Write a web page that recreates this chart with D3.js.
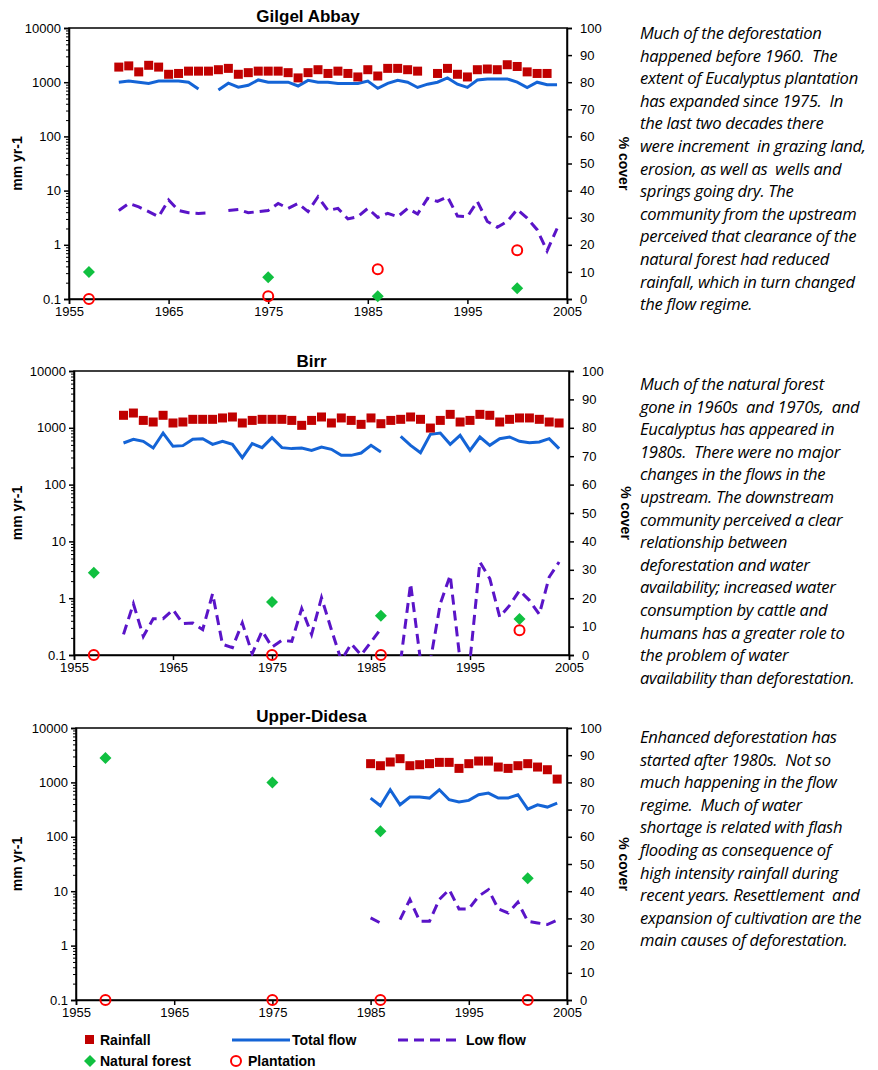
<!DOCTYPE html>
<html><head><meta charset="utf-8">
<script src="https://cdn.jsdelivr.net/npm/d3@7"></script>
<style>
body{margin:0;background:#fff;font-family:"Liberation Sans",Arial,sans-serif}
.note{position:absolute;left:640px;width:240px;white-space:nowrap;font-family:"Open Sans",sans-serif;font-style:italic;font-size:16.6px;letter-spacing:-0.3px;line-height:22.6px;color:#000}
</style></head><body>
<svg id="c" width="878" height="1070"></svg>
<div class="note" style="top:22px">Much of the deforestation<br>happened before 1960.&nbsp; The<br>extent of Eucalyptus plantation<br>has expanded since 1975.&nbsp; In<br>the last two decades there<br>were increment&nbsp; in grazing land,<br>erosion, as well as&nbsp; wells and<br>springs going dry. The<br>community from the upstream<br>perceived that clearance of the<br>natural forest had reduced<br>rainfall, which in turn changed<br>the flow regime.</div>
<div class="note" style="top:373px">Much of the natural forest<br>gone in 1960s&nbsp; and 1970s,&nbsp; and<br>Eucalyptus has appeared in<br>1980s.&nbsp; There were no major<br>changes in the flows in the<br>upstream. The downstream<br>community perceived a clear<br>relationship between<br>deforestation and water<br>availability; increased water<br>consumption by cattle and<br>humans has a greater role to<br>the problem of water<br>availability than deforestation.</div>
<div class="note" style="top:726px">Enhanced deforestation has<br>started after 1980s.&nbsp; Not so<br>much happening in the flow<br>regime.&nbsp; Much of water<br>shortage is related with flash<br>flooding as consequence of<br>high intensity rainfall during<br>recent years. Resettlement&nbsp; and<br>expansion of cultivation are the<br>main causes of deforestation.</div>
<script>
const xTicks=[1955,1965,1975,1985,1995,2005];
const leftTicks=[10000,1000,100,10,1,0.1];
const rightTicks=[0,10,20,30,40,50,60,70,80,90,100];
const yrs=(a,b)=>d3.range(a,b+1);

// Gilgel Abbay
const gaYears=yrs(1960,2004);
const gaRain=[1900,2000,1550,2050,1900,1400,1450,1600,1600,1600,1700,1800,1400,1500,1600,1600,1600,1500,1200,1500,1700,1450,1600,1450,1250,1700,1300,1800,1800,1700,1600,null,1450,1800,1400,1250,1700,1750,1700,2100,1950,1550,1450,1450,null];
const gaTotal=[1000,1050,1000,950,1050,1050,1050,1000,750,null,720,960,810,880,1100,1000,1000,1000,850,1080,1000,1000,950,950,950,1050,770,950,1080,1000,800,920,1000,1200,920,800,1100,1150,1150,1150,1000,800,1000,900,900];
const gaLow=[4.3,5.8,5.0,4.1,3.3,6.7,4.3,3.9,3.8,3.9,null,4.3,4.5,3.9,4.1,4.3,5.8,4.7,5.8,4.1,7.7,4.3,4.7,3.0,3.3,4.7,3.2,3.8,3.3,4.7,3.7,7.2,6.3,7.7,3.4,3.3,6.3,2.7,2.1,2.7,4.5,3.1,1.9,0.77,2.0];
const gaForestYears=[1957,1975,1986,2000], gaForest=[10,8,1,4];
const gaPlantYears=[1957,1975,1986,2000], gaPlant=[0,1,11,18];

// Birr
const biYears=yrs(1960,2004);
const biRain=[1660,1820,1350,1265,1660,1215,1265,1410,1410,1410,1490,1550,1215,1350,1410,1410,1410,1350,1105,1350,1550,1215,1490,1350,1150,1490,1180,1350,1410,1550,1410,990,1350,1725,1265,1350,1725,1660,1265,1410,1490,1490,1410,1265,1215];
const biTotal=[540,627,578,441,810,472,485,627,644,512,578,512,298,526,447,670,447,430,441,401,459,418,327,327,360,491,375,null,708,491,365,767,810,512,736,401,689,491,644,689,578,547,562,644,430];
const biLow=[0.231,0.80,0.213,0.436,0.436,0.628,0.356,0.366,0.279,1.20,0.154,0.135,0.366,0.105,0.265,0.138,0.181,0.174,0.654,0.231,1.02,0.279,0.08,0.158,0.1,0.169,0.291,null,0.08,1.80,0.08,0.08,0.80,2.53,0.08,0.08,4.34,2.21,0.467,0.748,1.37,0.917,0.52,2.36,4.34];
const biForestYears=[1957,1975,1986,2000], biForest=[29,18.7,13.8,12.7];
const biPlantYears=[1957,1975,1986,2000], biPlant=[0,0,0,8.7];

// Upper-Didesa
const udYears=yrs(1985,2004);
const udRain=[2210,2027,2370,2730,2027,2115,2210,2335,2335,1810,2210,2470,2470,1915,1810,2027,2210,1915,1710,1150];
const udTotal=[515,372,733,388,537,537,515,733,480,435,467,593,637,515,515,593,323,388,352,417];
const udLow=[3.23,2.61,null,3.01,7.03,2.81,2.81,7.03,10.7,4.73,4.73,8.09,10.7,4.73,3.99,6.28,2.81,2.61,2.44,2.92];
const udForestYears=[1958,1975,1986,2001], udForest=[89,80,62,44.8];
const udPlantYears=[1958,1975,1986,2001], udPlant=[0,0,0,0];

const panels=[
 {title:"Gilgel Abbay",x0:69,x1:567,y0:28,y1:299,ty:22,years:gaYears,rain:gaRain,total:gaTotal,low:gaLow,fy:gaForestYears,f:gaForest,py:gaPlantYears,p:gaPlant},
 {title:"Birr",x0:74,x1:569,y0:371,y1:655,ty:367,years:biYears,rain:biRain,total:biTotal,low:biLow,fy:biForestYears,f:biForest,py:biPlantYears,p:biPlant},
 {title:"Upper-Didesa",x0:76,x1:567,y0:728,y1:1000,ty:722,years:udYears,rain:udRain,total:udTotal,low:udLow,fy:udForestYears,f:udForest,py:udPlantYears,p:udPlant}
];
const RAIN="#c00000",TOT="#1464d6",LOW="#5a14c8",FOR="#10c040",PL="#ff0000";
const diamond="M0,-6L6,0L0,6L-6,0Z";
const svg=d3.select("#c");
panels.forEach((P,i)=>{
 const x=d3.scaleLinear().domain([1955,2005]).range([P.x0,P.x1]);
 const y=d3.scaleLog().domain([0.1,10000]).range([P.y1,P.y0]);
 const yr=d3.scaleLinear().domain([0,100]).range([P.y1,P.y0]);
 const g=svg.append("g");
 const cid="clip"+i;
 svg.append("clipPath").attr("id",cid).append("rect").attr("x",P.x0).attr("y",P.y0).attr("width",P.x1-P.x0).attr("height",P.y1-P.y0+1);
 g.append("rect").attr("x",P.x0).attr("y",P.y0).attr("width",P.x1-P.x0).attr("height",P.y1-P.y0).attr("fill","none").attr("stroke","#000").attr("stroke-width",1.5);
 const la=g.append("g").attr("transform",`translate(${P.x0},0)`).call(d3.axisLeft(y).tickValues(leftTicks).tickFormat(d=>d>=1?d3.format("d")(d):"0.1").tickSize(5));
 const minors=[];for(let e=-1;e<4;e++)for(let k=2;k<10;k++)minors.push(k*Math.pow(10,e));
 g.append("g").attr("transform",`translate(${P.x0},0)`).call(d3.axisLeft(y).tickValues(minors).tickFormat("").tickSize(3)).select(".domain").remove();
 const ra=g.append("g").attr("transform",`translate(${P.x1},0)`).call(d3.axisRight(yr).tickValues(rightTicks).tickSize(5).tickPadding(8));
 const xa=g.append("g").attr("transform",`translate(0,${P.y1})`).call(d3.axisBottom(x).tickValues(xTicks).tickFormat(d3.format("d")).tickSize(5));
 [la,ra,xa].forEach(a=>{a.selectAll("text").attr("font-size",13).attr("fill","#000");a.selectAll("line,path").attr("stroke","#000").attr("stroke-width",1.5);});
 g.append("text").attr("x",(P.x0+P.x1)/2-10).attr("y",P.ty).attr("text-anchor","middle").attr("font-weight","bold").attr("font-size",17).text(P.title);
 const mid=(P.y0+P.y1)/2;
 g.append("text").attr("transform",`translate(22,${mid}) rotate(-90)`).attr("text-anchor","middle").attr("font-weight","bold").attr("font-size",14).text("mm yr-1");
 g.append("text").attr("transform",`translate(${P.x1+52},${mid}) rotate(90)`).attr("text-anchor","middle").attr("font-weight","bold").attr("font-size",14).text("% cover");
 const cg=g.append("g").attr("clip-path",`url(#${cid})`);
 const pts=arr=>P.years.map((yv,j)=>[yv,arr[j]]);
 const line=d3.line().defined(d=>d[1]!=null).x(d=>x(d[0])).y(d=>y(d[1]));
 cg.append("path").datum(pts(P.total)).attr("d",line).attr("fill","none").attr("stroke",TOT).attr("stroke-width",3);
 cg.append("path").datum(pts(P.low)).attr("d",line).attr("fill","none").attr("stroke",LOW).attr("stroke-width",3).attr("stroke-dasharray","10,6");
 g.selectAll(null).data(pts(P.rain).filter(d=>d[1]!=null)).enter().append("rect").attr("x",d=>x(d[0])-4.5).attr("y",d=>y(d[1])-4.5).attr("width",9).attr("height",9).attr("fill",RAIN);
 g.selectAll(null).data(P.fy.map((yv,j)=>[yv,P.f[j]])).enter().append("path").attr("d",diamond).attr("transform",d=>`translate(${x(d[0])},${yr(d[1])})`).attr("fill",FOR);
 g.selectAll(null).data(P.py.map((yv,j)=>[yv,P.p[j]])).enter().append("circle").attr("cx",d=>x(d[0])).attr("cy",d=>yr(d[1])).attr("r",5).attr("fill","none").attr("stroke",PL).attr("stroke-width",2);
});
const L=svg.append("g").attr("font-size",14).attr("font-weight","bold");
L.append("rect").attr("x",85).attr("y",1035).attr("width",9).attr("height",9).attr("fill",RAIN);
L.append("text").attr("x",100).attr("y",1045).text("Rainfall");
L.append("line").attr("x1",232).attr("x2",290).attr("y1",1040).attr("y2",1040).attr("stroke",TOT).attr("stroke-width",3);
L.append("text").attr("x",292).attr("y",1045).text("Total flow");
L.append("line").attr("x1",398).attr("x2",462).attr("y1",1040).attr("y2",1040).attr("stroke",LOW).attr("stroke-width",3).attr("stroke-dasharray","10,6");
L.append("text").attr("x",466).attr("y",1045).text("Low flow");
L.append("path").attr("d",diamond).attr("transform","translate(90,1061)").attr("fill",FOR);
L.append("text").attr("x",100).attr("y",1066).text("Natural forest");
L.append("circle").attr("cx",236).attr("cy",1061).attr("r",5).attr("fill","none").attr("stroke",PL).attr("stroke-width",2);
L.append("text").attr("x",248).attr("y",1066).text("Plantation");
</script></body></html>
